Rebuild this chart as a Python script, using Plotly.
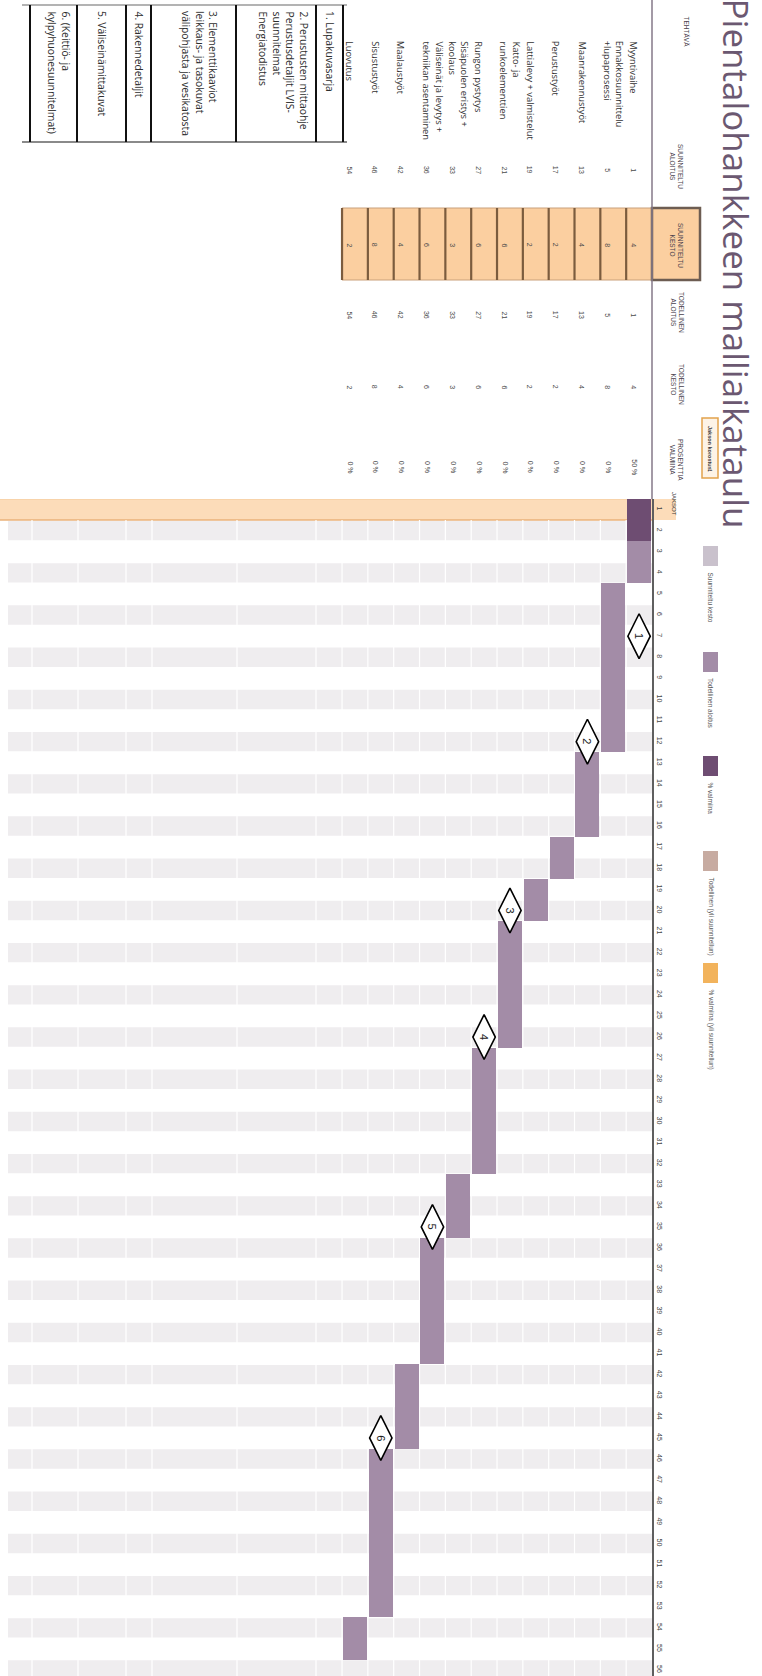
import plotly.graph_objects as go

W, H = 762, 1676

# ---------------- data ----------------
tasks = ["Myyntivaihe", "Ennakkosuunnittelu<br>+lupaprosessi", "Maanrakennustyöt", "Perustustyöt",
         "Lattialevy + valmistelut", "Katto- ja<br>runkoelementtien", "Rungon pystytys",
         "Sisäpuolen eristys +<br>koolaus", "Väliseinät ja levytys +<br>tekniikan asentaminen",
         "Maalaustyöt", "Sisustustyöt", "Luovutus"]
plan_start = [1, 5, 13, 17, 19, 21, 27, 33, 36, 42, 46, 54]
plan_dur = [4, 8, 4, 2, 2, 6, 6, 3, 6, 4, 8, 2]
act_start = [1, 5, 13, 17, 19, 21, 27, 33, 36, 42, 46, 54]
act_dur = [4, 8, 4, 2, 2, 6, 6, 3, 6, 4, 8, 2]
pct_done = [50, 0, 0, 0, 0, 0, 0, 0, 0, 0, 0, 0]
periods = list(range(1, 57))
highlight_period = 1

milestone_labels = ["1", "2", "3", "4", "5", "6"]
milestone_task = [1, 3, 6, 7, 9, 11]
milestone_period = [7, 12, 20, 26, 35, 45]
milestone_docs = ["1. Lupakuvasarja",
                  "2. Perustusten mittaohje<br>Perustusdetaljit LVIS-<br>suunnitelmat<br>Energiatodistus",
                  "3. Elementtikaaviot<br>leikkaus- ja tasokuvat<br>välipohjasta ja vesikatosta",
                  "4. Rakennedetaljit",
                  "5. Väliseinämittakuvat",
                  "6. (Keittiö- ja<br>kylpyhuonesuunnitelmat)"]

title = "Pientalohankkeen malliaikataulu"
col_headers = ["SUUNNITELTU<br>ALOITUS", "SUUNNITELTU<br>KESTO", "TODELLINEN<br>ALOITUS",
               "TODELLINEN<br>KESTO", "PROSENTTIA<br>VALMIINA"]
legend_labels = ["Suunniteltu kesto", "Todellinen aloitus", "% valmiina",
                 "Todellinen (yli suunnitellun)", "% valmiina (yli suunnitellun)"]
legend_colors = ["#c9c1cc", "#a38ca7", "#6e4d72", "#c7aba1", "#f2b35c"]

# ---------------- layout constants (pixels) ----------------
AXIS_X = 652
ROW_W = 25.83
P_TOP = 499
P_H = 21.1
FONT = "Liberation Sans"
TFONT = "Open Sans"


def fx(px):
    return px / W


def fy(py):
    return 1 - py / H


task_idx = list(range(1, len(tasks) + 1))
fig = go.Figure()

# bars
fig.add_bar(x=task_idx, y=plan_dur, base=[s - 0.5 for s in plan_start], width=0.93,
            marker=dict(color=legend_colors[0], line=dict(width=0)), name=legend_labels[0])
fig.add_bar(x=task_idx, y=act_dur, base=[s - 0.5 for s in act_start], width=0.93,
            marker=dict(color=legend_colors[1], line=dict(width=0)), name=legend_labels[1])
fig.add_bar(x=task_idx, y=[d * p / 100 for d, p in zip(act_dur, pct_done)],
            base=[s - 0.5 for s in act_start], width=0.93,
            marker=dict(color=legend_colors[2], line=dict(width=0)), name=legend_labels[2])

# milestones
fig.add_scatter(x=milestone_task, y=milestone_period, mode="markers",
                marker=dict(symbol="diamond-tall", size=32, color="white",
                            line=dict(color="black", width=1.6)), hoverinfo="skip")

shapes = []
ann = []

# highlighted period band
shapes.append(dict(type="rect", xref="paper", yref="y", x0=0, x1=fx(676),
                   y0=highlight_period - 0.5, y1=highlight_period + 0.5,
                   fillcolor="#fcdcb9", line=dict(width=0), layer="below"))
shapes.append(dict(type="line", xref="paper", yref="y", x0=0, x1=fx(AXIS_X),
                   y0=highlight_period + 0.5, y1=highlight_period + 0.5,
                   line=dict(color="#eab27a", width=1.5), layer="below"))
shapes.append(dict(type="line", xref="paper", yref="y", x0=0, x1=fx(AXIS_X),
                   y0=highlight_period - 0.5, y1=highlight_period - 0.5,
                   line=dict(color="#f3c99c", width=1), layer="below"))

# alternating stripes
for p in periods:
    if p % 2 == 0:
        shapes.append(dict(type="rect", xref="paper", yref="y", x0=fx(8), x1=fx(AXIS_X),
                           y0=p - 0.46, y1=p + 0.46, fillcolor="#efedef",
                           line=dict(width=0), layer="below"))
# white cell separators
for i in range(1, len(tasks) + 1):
    shapes.append(dict(type="line", xref="x", yref="paper", x0=i + 0.5, x1=i + 0.5,
                       y0=0, y1=fy(P_TOP + P_H), line=dict(color="white", width=1.2), layer="below"))
for px in [316, 237, 152, 126, 78, 32]:
    shapes.append(dict(type="line", xref="paper", yref="paper", x0=fx(px), x1=fx(px),
                       y0=0, y1=fy(P_TOP + P_H), line=dict(color="white", width=1.2), layer="below"))

# header separator line (extends axis line to top)
shapes.append(dict(type="line", xref="paper", yref="paper", x0=fx(AXIS_X), x1=fx(AXIS_X),
                   y0=fy(P_TOP), y1=1, line=dict(color="#857888", width=1.5)))

# orange planned-duration column
shapes.append(dict(type="rect", xref="x", yref="paper", x0=len(tasks) + 0.5, x1=0.5,
                   y0=fy(208), y1=fy(280), fillcolor="#fbcfa0",
                   line=dict(color="#c9a07a", width=1), layer="below"))
shapes.append(dict(type="rect", xref="paper", yref="paper", x0=fx(AXIS_X), x1=fx(700),
                   y0=fy(208), y1=fy(280), fillcolor="#fbcfa0",
                   line=dict(color="#6d5d52", width=2.5), layer="below"))
for i in range(1, len(tasks) + 1):
    shapes.append(dict(type="line", xref="x", yref="paper", x0=i + 0.5, x1=i + 0.5,
                       y0=fy(208), y1=fy(280), line=dict(color="#7b5c3e", width=2.2)))

# milestone document table
shapes.append(dict(type="line", xref="paper", yref="paper", x0=fx(22), x1=fx(347),
                   y0=fy(5), y1=fy(5), line=dict(color="#9a9a9a", width=1.5)))
shapes.append(dict(type="line", xref="paper", yref="paper", x0=fx(22), x1=fx(347),
                   y0=fy(142), y1=fy(142), line=dict(color="#8a8a8a", width=2)))
doc_edges = [343, 316, 236, 151, 126, 77, 30]
doc_text_x = [329.5, 283.5, 199.5, 138.5, 101.5, 58.5]
for px in doc_edges:
    shapes.append(dict(type="line", xref="paper", yref="paper", x0=fx(px), x1=fx(px),
                       y0=fy(5), y1=fy(142), line=dict(color="#111111", width=2)))
for txt, tx in zip(milestone_docs, doc_text_x):
    ann.append(dict(text=txt, xref="paper", yref="paper", x=fx(tx), y=fy(10),
                    xanchor="center", yanchor="top", textangle=90, align="left",
                    borderpad=0, showarrow=False,
                    font=dict(family=TFONT, size=10.3, color="#2e2e2e")))

# Jakson korostus box
shapes.append(dict(type="rect", xref="paper", yref="paper", x0=fx(702), x1=fx(718),
                   y0=fy(418), y1=fy(478), fillcolor="#fdf3e6",
                   line=dict(color="#e2a24c", width=1.5)))
ann.append(dict(text="<b>Jakson korostus:</b>", xref="paper", yref="paper", x=fx(710), y=fy(424),
                xanchor="center", yanchor="top", textangle=90, showarrow=False,
                font=dict(family=FONT, size=5.5, color="#3a3a3a")))
ann.append(dict(text=str(highlight_period), xref="paper", yref="paper", x=fx(710), y=fy(470),
                xanchor="center", yanchor="middle", textangle=90, showarrow=False,
                font=dict(family=FONT, size=5.5, color="#3a3a3a")))

# legend
legend_y = [546, 652, 756, 851, 963]
for lab, col, ly in zip(legend_labels, legend_colors, legend_y):
    shapes.append(dict(type="rect", xref="paper", yref="paper", x0=fx(703), x1=fx(718),
                       y0=fy(ly), y1=fy(ly + 20), fillcolor=col, line=dict(width=0)))
    ann.append(dict(text=lab, xref="paper", yref="paper", x=fx(710.5), y=fy(ly + 24),
                    xanchor="center", yanchor="top", textangle=90, showarrow=False,
                    font=dict(family=FONT, size=6.5, color="#555555")))

# title
ann.append(dict(text=title, xref="paper", yref="paper", x=fx(761), y=fy(-3),
                xanchor="right", yanchor="top", textangle=90, showarrow=False,
                borderpad=0, font=dict(family="Open Sans", size=35, color="#6b5871")))

# headers
ann.append(dict(text="TEHTÄVÄ", xref="paper", yref="paper", x=fx(686), y=fy(14),
                xanchor="center", yanchor="top", textangle=90, showarrow=False,
                font=dict(family=FONT, size=6.5, color="#4a3f4d")))
header_y = [166, 245, 312, 384, 460]
for txt, hy in zip(col_headers, header_y):
    ann.append(dict(text=txt, xref="paper", yref="paper", x=fx(677), y=fy(hy),
                    xanchor="center", yanchor="middle", textangle=90, align="center",
                    showarrow=False, font=dict(family=FONT, size=6.5, color="#4a3f4d")))
ann.append(dict(text="JAKSOT", xref="paper", yref="paper", x=fx(674), y=fy(504),
                xanchor="center", yanchor="middle", textangle=90, showarrow=False,
                font=dict(family=FONT, size=6, color="#3a3a3a")))

# task table rows
value_cols = [plan_start, plan_dur, act_start, act_dur, [f"{p} %" for p in pct_done]]
value_y = [170, 245, 315, 387, 467]
for i, name in zip(task_idx, tasks):
    ann.append(dict(text=name, xref="x", yref="paper", x=i + 0.5, xshift=0, y=fy(40),
                    xanchor="left", yanchor="top", textangle=90, align="left", showarrow=False,
                    borderpad=0, font=dict(family=TFONT, size=9.3, color="#333333")))
    for col, vy in zip(value_cols, value_y):
        ann.append(dict(text=str(col[i - 1]), xref="x", yref="paper", x=i + 0.5, xshift=2,
                        y=fy(vy), xanchor="left", yanchor="middle", textangle=90,
                        showarrow=False, font=dict(family=FONT, size=7, color="#4a4a4a")))

# milestone numbers
for lab, t, p in zip(milestone_labels, milestone_task, milestone_period):
    ann.append(dict(text=lab, xref="x", yref="y", x=t, y=p, textangle=90, showarrow=False,
                    font=dict(family=FONT, size=11, color="#222222")))

fig.update_layout(
    width=W, height=H, margin=dict(l=0, r=0, t=0, b=0),
    paper_bgcolor="white", plot_bgcolor="rgba(0,0,0,0)",
    barmode="overlay", bargap=0, showlegend=False,
    shapes=shapes, annotations=ann,
    xaxis=dict(domain=[0, fx(AXIS_X)], range=[0.5 + AXIS_X / ROW_W, 0.5], visible=False,
               fixedrange=True),
    yaxis=dict(domain=[0, fy(P_TOP)], range=[0.5 + (H - P_TOP) / P_H, 0.5], side="right",
               tickmode="array", tickvals=periods, ticktext=[str(p) for p in periods],
               tickangle=90, tickfont=dict(family=FONT, size=7, color="#444444"),
               ticks="", showgrid=False, zeroline=False, showline=True,
               linecolor="#5f5f5f", linewidth=1.5, fixedrange=True),
)

fig.write_html("out.html")
